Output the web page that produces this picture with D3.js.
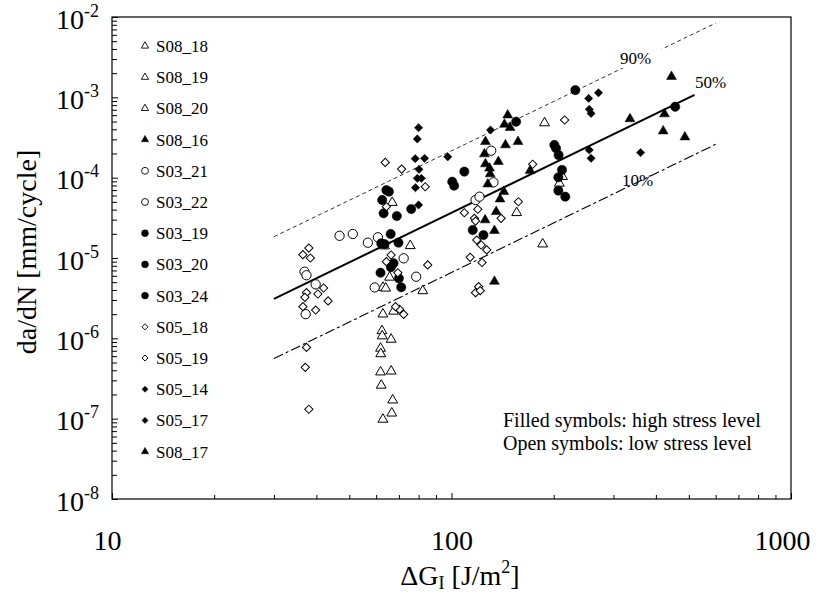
<!DOCTYPE html>
<html>
<head>
<meta charset="utf-8">
<script src="https://cdn.jsdelivr.net/npm/d3@7"></script>
<style>
  body { margin: 0; background: #fff; }
  svg text { font-family: "Liberation Serif", "Times New Roman", serif; fill: #000; }
</style>
</head>
<body>
<div id="chart"></div>
<script>
const w = 818;
const h = 593;

// tick labels
const xLabels = [10, 100, 1000];
const yLabels = [1e-8, 1e-7, 1e-6, 1e-5, 1e-4, 1e-3, 1e-2];

// series, in legend order
const seriesNames = ["S08_18", "S08_19", "S08_20", "S08_16", "S03_21", "S03_22", "S03_19",
  "S03_20", "S03_24", "S05_18", "S05_19", "S05_14", "S05_17", "S08_17"];
const seriesShapes = ["triangle", "triangle", "triangle", "triangle", "circle", "circle", "circle",
  "circle", "circle", "diamond", "diamond", "diamond", "diamond", "triangle"];
const seriesFilled = [false, false, false, true, false, false, true,
  true, true, false, false, true, true, true];

// [dG, da/dN]
const s08_18 = [[62.4, 1.24e-6], [62.5, 1.07e-6], [66.4, 9.7e-7], [61.8, 7.5e-7], [61.9, 6.4e-7],
  [61.8, 3.8e-7], [66.4, 3.9e-7], [62.1, 2.6e-7], [67.1, 1.7e-7], [66.7, 1.17e-7], [62.8, 9.8e-8]];
const s08_19 = [[66.9, 4.9e-5], [75.6, 1.42e-5], [63.5, 1.41e-5], [65.7, 5.75e-6], [62.8, 4.3e-6],
  [64.0, 4.2e-6], [62.8, 2.0e-6], [67.5, 2.17e-6]];
const s08_20 = [[82.3, 3.9e-6], [188, 4.8e-4], [155.6, 3.66e-5], [185.6, 1.49e-5], [207.8, 8.5e-5],
  [212.3, 1.03e-4]];
const s08_16 = [[444.6, 1.81e-3], [335.5, 5.4e-4], [424, 6.2e-4], [420.3, 3.8e-4], [486.9, 3.2e-4]];
const s03_21 = [[46.8, 1.89e-5], [51.2, 1.99e-5], [56.7, 1.55e-5], [60.7, 1.81e-5], [36.9, 6.75e-6],
  [37.4, 6.1e-6], [39.8, 4.7e-6], [37.2, 2.0e-6], [59.4, 4.3e-6]];
const s03_22 = [[72.3, 9.9e-6], [78.7, 5.85e-6], [130.9, 2.17e-4], [132.9, 8.75e-5], [117.7, 5.27e-5],
  [120.9, 5.8e-5]];
const s03_19 = [[64.3, 7.0e-5], [65.4, 6.7e-5], [62.5, 5.27e-5], [63.1, 3.6e-5], [69, 3.33e-5],
  [76.1, 4.07e-5], [66.2, 1.99e-5], [62.1, 1.52e-5], [63.5, 1.49e-5], [69.8, 1.55e-5],
  [61.8, 6.56e-6], [67.5, 8.6e-6], [70, 5.58e-6], [71.1, 4.32e-6], [66.3, 7.66e-6]];
const s03_20 = [[109.1, 1.19e-4], [100.5, 8.9e-5], [101.8, 7.94e-5], [115.5, 2.23e-5], [124.2, 1.93e-5],
  [155, 4.97e-4]];
const s03_24 = [[231.6, 1.23e-3], [200.9, 2.55e-4], [203.2, 2.32e-4], [206.8, 1.91e-4], [211.6, 1.25e-4],
  [206.4, 1.01e-4], [206.4, 6.9e-5], [216.3, 5.8e-5], [456, 7.64e-4]];
const s05_18 = [[63.8, 1.55e-4], [71.3, 1.28e-4], [83.7, 7.7e-5], [64.3, 4.35e-5], [38.0, 1.33e-5],
  [36.5, 1.1e-5], [38.4, 1.0e-5], [37.4, 3.7e-6], [40.4, 3.56e-6], [42.0, 4.23e-6], [37.0, 3.24e-6],
  [43.3, 2.92e-6], [39.8, 2.25e-6], [36.5, 2.48e-6], [66.4, 1.09e-5], [64.3, 9.0e-6], [69.5, 6.56e-6],
  [85.1, 8.2e-6], [70.3, 2.3e-6], [72.3, 1.99e-6], [68.4, 2.48e-6], [37.4, 7.7e-7], [37.1, 4.36e-7],
  [38.0, 1.31e-7]];
const s05_19 = [[215.4, 5.22e-4], [173.4, 1.47e-4], [157.4, 5.02e-5], [109.1, 3.66e-5], [119.5, 4.04e-5],
  [116.8, 3.12e-5], [117.7, 2.88e-5], [140, 3.12e-5], [118.7, 1.67e-5], [122.3, 1.45e-5], [127, 1.26e-5],
  [113.5, 1.02e-5], [123, 8.8e-6], [120.2, 4.4e-6], [117.7, 3.7e-6], [121.5, 3.92e-6]];
const s05_14 = [[80.0, 4.19e-4], [79.3, 3.03e-4], [78.2, 1.72e-4], [83.3, 1.74e-4], [97.5, 1.82e-4],
  [80.2, 1.27e-4], [79.3, 9.8e-5], [81.5, 9.8e-5], [78.3, 7.5e-5], [80.0, 4.57e-5], [67.1, 8.6e-6]];
const s05_17 = [[130.3, 3.92e-4], [253.5, 9.7e-4], [271, 1.14e-3], [254.6, 7.1e-4], [257.7, 6.3e-4],
  [254.6, 2.21e-4], [257.7, 1.74e-4], [360.5, 2.05e-4]];
const s08_17 = [[146.4, 6.0e-4], [143.2, 4.6e-4], [148.8, 4.2e-4], [125.9, 2.8e-4], [144.2, 2.55e-4],
  [157, 2.8e-4], [125, 1.97e-4], [137.4, 1.58e-4], [125.9, 1.48e-4], [129.4, 1.31e-4], [130, 1.11e-4],
  [127.9, 8.3e-5], [142.6, 6.7e-5], [139, 5.4e-5], [135.4, 3.77e-5], [125.6, 2.97e-5], [133.8, 2.19e-5],
  [170.4, 1.22e-4], [133.8, 5.1e-6]];

const seriesData = [s08_18, s08_19, s08_20, s08_16, s03_21, s03_22, s03_19,
  s03_20, s03_24, s05_18, s05_19, s05_14, s05_17, s08_17];

// scatter bands (10%, 50%, 90%)
const fit90 = [[30, 1.84e-5], [600, 8.4e-3]];
const fit50 = [[30, 3.1e-6], [520, 1.07e-3]];
const fit10 = [[30, 5.6e-7], [600, 2.6e-4]];

const serif = "'Liberation Serif', 'Times New Roman', serif";

const svg = d3.select("#chart").append("svg")
  .attr("width", w)
  .attr("height", h)
  .style("font-family", serif);

const x = d3.scaleLog().domain([10, 1000]).range([112, 791]);
const y = d3.scaleLog().domain([1e-8, 1e-2]).range([499, 17]);

// minor ticks, inside the frame
svg.append("g")
  .attr("transform", "translate(0,499)")
  .call(d3.axisBottom(x).tickValues(x.ticks().filter((d) => !xLabels.includes(d)))
    .tickSize(-4).tickSizeOuter(0).tickFormat(""))
  .call((g) => g.select(".domain").remove());

svg.append("g")
  .attr("transform", "translate(112,0)")
  .call(d3.axisLeft(y).tickValues(y.ticks().filter((d) => !yLabels.includes(d)))
    .tickSize(-5).tickSizeOuter(0).tickFormat(""))
  .call((g) => g.select(".domain").remove());

// major ticks + labels
const xLabelShift = [-5, 0, -9];
const xAxis = svg.append("g")
  .attr("transform", "translate(0,499)")
  .call(d3.axisBottom(x).tickValues(xLabels).tickSize(-6).tickSizeOuter(0).tickFormat(d3.format("d")))
  .call((g) => g.select(".domain").remove())
  .attr("font-family", serif);
xAxis.selectAll("text")
  .attr("x", (d, i) => xLabelShift[i])
  .attr("y", 51)
  .attr("dy", null)
  .style("font-size", "28px");

const yAxis = svg.append("g")
  .attr("transform", "translate(112,0)")
  .call(d3.axisLeft(y).tickValues(yLabels).tickSize(-6).tickSizeOuter(0))
  .call((g) => g.select(".domain").remove())
  .attr("font-family", serif);
yAxis.selectAll("text")
  .attr("x", -13)
  .attr("y", 11)
  .attr("dy", null)
  .text(null)
  .each(function (d) {
    const t = d3.select(this);
    t.append("tspan").style("font-size", "28px").text("10");
    t.append("tspan").style("font-size", "18px").attr("dy", -12).text(String(Math.round(Math.log10(d))));
  });

svg.selectAll(".tick line").attr("stroke", "#000").attr("stroke-width", 1);

// frame
svg.append("rect")
  .attr("x", 112).attr("y", 17)
  .attr("width", 791 - 112).attr("height", 499 - 17)
  .attr("fill", "none")
  .attr("stroke", "#000")
  .attr("stroke-width", 1.2);

// fit lines
const line = d3.line().x((d) => x(d[0])).y((d) => y(d[1]));

svg.append("path").datum(fit90).attr("d", line)
  .attr("fill", "none").attr("stroke", "#000").attr("stroke-width", 0.8)
  .attr("stroke-dasharray", "4,3");
svg.append("path").datum(fit10).attr("d", line)
  .attr("fill", "none").attr("stroke", "#000").attr("stroke-width", 1.1)
  .attr("stroke-dasharray", "10,3,3,3");
svg.append("path").datum(fit50).attr("d", line)
  .attr("fill", "none").attr("stroke", "#000").attr("stroke-width", 2);

const bandLabels = [
  { text: "90%", x: 620, y: 64, knockout: true },
  { text: "50%", x: 695, y: 88, knockout: false },
  { text: "10%", x: 622, y: 186, knockout: false }
];
bandLabels.forEach((b) => {
  const t = svg.append("text")
    .attr("x", b.x).attr("y", b.y)
    .style("font-size", "17px")
    .text(b.text);
  if (b.knockout) {
    const bb = t.node().getBBox();
    svg.insert("rect", () => t.node())
      .attr("x", bb.x - 2).attr("y", bb.y)
      .attr("width", bb.width + 16).attr("height", bb.height)
      .attr("fill", "#fff");
  }
});

// markers
const shapeType = { triangle: d3.symbolTriangle, circle: d3.symbolCircle, diamond: d3.symbolSquare };
const shapeSize = { triangle: 42, circle: 68, diamond: 34 };
const shapeRot = { triangle: 0, circle: 0, diamond: 45 };

seriesData.forEach((pts, i) => {
  const shape = seriesShapes[i];
  const sym = d3.symbol().type(shapeType[shape]).size(shapeSize[shape]);
  svg.append("g").attr("class", "series " + seriesNames[i])
    .selectAll("path")
    .data(pts)
    .enter()
    .append("path")
    .attr("d", sym)
    .attr("transform", (d) => `translate(${x(d[0])},${y(d[1])}) rotate(${shapeRot[shape]})`)
    .attr("fill", seriesFilled[i] ? "#000" : "#fff")
    .attr("stroke", "#000")
    .attr("stroke-width", seriesFilled[i] ? 0.5 : 1);
});

// legend
const legend = svg.append("g").attr("transform", "translate(145,46)");
const legendItems = legend.selectAll("g")
  .data(seriesNames)
  .enter()
  .append("g")
  .attr("transform", (d, i) => `translate(0,${i * 31.2})`);

legendItems.append("path")
  .attr("d", (d, i) => d3.symbol().type(shapeType[seriesShapes[i]]).size(shapeSize[seriesShapes[i]] * 0.55)())
  .attr("transform", (d, i) => `rotate(${shapeRot[seriesShapes[i]]})`)
  .attr("fill", (d, i) => seriesFilled[i] ? "#000" : "#fff")
  .attr("stroke", "#000")
  .attr("stroke-width", (d, i) => seriesFilled[i] ? 0.5 : 0.9);

legendItems.append("text")
  .attr("x", 11)
  .attr("y", 6)
  .style("font-size", "17px")
  .text((d) => d);

// notes
svg.append("text").attr("x", 503).attr("y", 427).style("font-size", "20px")
  .text("Filled symbols: high stress level");
svg.append("text").attr("x", 503).attr("y", 450).style("font-size", "20px")
  .text("Open symbols: low stress level");

// axis titles
const xTitle = svg.append("text")
  .attr("x", 460).attr("y", 585)
  .attr("text-anchor", "middle")
  .style("font-size", "28px");
xTitle.append("tspan").text("ΔG");
xTitle.append("tspan").style("font-size", "18px").attr("dy", 4).text("I");
xTitle.append("tspan").attr("dy", -4).text(" [J/m");
xTitle.append("tspan").style("font-size", "18px").attr("dy", -12).text("2");
xTitle.append("tspan").attr("dy", 12).text("]");

svg.append("text")
  .attr("transform", "translate(36,252) rotate(-90)")
  .attr("text-anchor", "middle")
  .style("font-size", "28px")
  .text("da/dN [mm/cycle]");
</script>
</body>
</html>
